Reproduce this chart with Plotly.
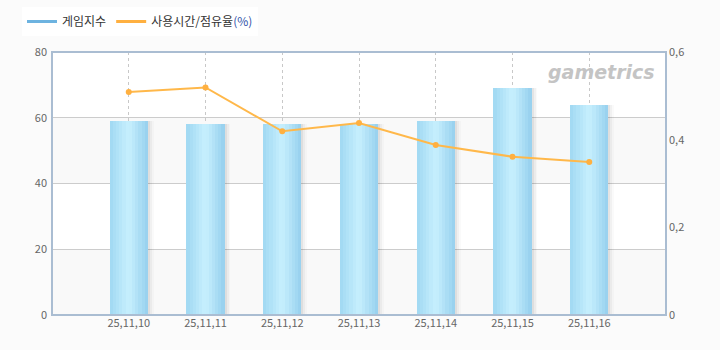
import plotly.graph_objects as go

dates = ["25,11,10", "25,11,11", "25,11,12", "25,11,13", "25,11,14", "25,11,15", "25,11,16"]
game_index = [59, 58.2, 58.1, 58.2, 59, 69, 63.8]
usage_share = [0.509, 0.519, 0.419, 0.438, 0.388, 0.361, 0.349]

xpos = list(range(len(dates)))

fig = go.Figure()

# background bands
for y0, y1 in [(0, 20), (40, 60)]:
    fig.add_shape(type="rect", xref="paper", yref="y", x0=0, x1=1, y0=y0, y1=y1,
                  fillcolor="#f9f9f9", line_width=0, layer="below")

bar_w = 0.5
# soft shadow
for k, a in enumerate([0.05, 0.035, 0.02]):
    fig.add_trace(go.Bar(x=xpos, y=game_index, width=bar_w, offset=-bar_w / 2 + 0.025 * (k + 1),
                         marker=dict(color="rgba(0,0,0,%.3f)" % a, line_width=0),
                         showlegend=False, hoverinfo="skip"))

# solid base bar so no gridline shows through slice seams
fig.add_trace(go.Bar(x=xpos, y=game_index, width=bar_w, offset=-bar_w / 2,
                     marker=dict(color="rgb(180,228,248)", line_width=0, opacity=1),
                     showlegend=False, hoverinfo="skip"))

# gradient slices
edge_l = (160, 216, 242)
center = (200, 240, 254)
edge_r = (150, 208, 238)
n = 12
sw = bar_w / n
for i in range(n):
    t = (i + 0.5) / n
    if t < 0.5:
        f = t / 0.5
        c = tuple(int(edge_l[k] + (center[k] - edge_l[k]) * f) for k in range(3))
    else:
        f = (t - 0.5) / 0.5
        c = tuple(int(center[k] + (edge_r[k] - center[k]) * f) for k in range(3))
    w = sw * 1.3 if i < n - 1 else sw
    fig.add_trace(go.Bar(x=xpos, y=game_index, width=w, offset=-bar_w / 2 + i * sw,
                         marker=dict(color="rgb(%d,%d,%d)" % c, line_width=0, opacity=1),
                         showlegend=False, hoverinfo="skip"))

# legend entries
fig.add_trace(go.Scatter(x=[None], y=[None], mode="lines", name="게임지수",
                         line=dict(color="#6db3e0", width=3)))
fig.add_trace(go.Scatter(x=[None], y=[None], mode="lines", yaxis="y2",
                         name='사용시간/점유율<span style="color:#3355aa">(%)</span>',
                         line=dict(color="#ffb040", width=3)))

fig.add_trace(go.Scatter(x=xpos, y=usage_share, yaxis="y2", mode="lines+markers",
                         showlegend=False,
                         line=dict(color="#ffb84a", width=2),
                         marker=dict(color="#ffb040", size=6)))

fig.update_layout(
    width=720, height=350,
    margin=dict(l=52, r=54, t=52, b=35, autoexpand=False),
    paper_bgcolor="#fbfbfb", plot_bgcolor="white",
    barmode="overlay", bargap=0,
    font=dict(family="Noto Sans CJK KR, DejaVu Sans", size=11, color="#666666"),
    showlegend=True,
    legend=dict(orientation="h", xref="container", yref="container", x=22 / 720, y=1 - 7 / 350,
                xanchor="left", yanchor="top", bgcolor="white",
                font=dict(size=12, color="#333333"), itemwidth=30),
    xaxis=dict(range=[-1, 7], tickvals=xpos, ticktext=dates, showgrid=True,
               gridcolor="#c8c8c8", griddash="3px,3px", gridwidth=1, zeroline=False,
               ticks="", showline=False),
    yaxis=dict(range=[0, 80], tickvals=[0, 20, 40, 60, 80], showgrid=True, gridcolor="#cccccc",
               zeroline=False, ticks="", ticklabelstandoff=4),
    yaxis2=dict(range=[0, 0.6], tickvals=[0, 0.2, 0.4, 0.6], ticktext=["0", "0,2", "0,4", "0,6"],
                overlaying="y", side="right", showgrid=False, zeroline=False, ticks="",
                ticklabelstandoff=2),
)

# frame
fig.add_shape(type="rect", xref="paper", yref="paper", x0=0, x1=1, y0=0, y1=1,
              line=dict(color="#aabdd2", width=2), layer="above")

fig.add_annotation(text="<b><i>gametrics</i></b>", xref="paper", yref="paper",
                   x=0.985, y=0.975, xanchor="right", yanchor="top", showarrow=False,
                   font=dict(size=19, color="#c4c4c4", family="DejaVu Sans"))

fig.write_html("out.html")
